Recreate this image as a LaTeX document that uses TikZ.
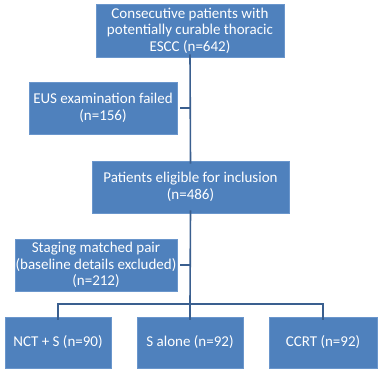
\documentclass[tikz,border=0pt]{standalone}
\usepackage{fontspec}
\setmainfont{Carlito}
\definecolor{boxblue}{HTML}{4F81BD}
\definecolor{boxedge}{HTML}{6A96CC}
\definecolor{linkblue}{HTML}{3A5F8F}
\begin{document}
\begin{tikzpicture}[x=1pt,y=-1pt,
  box/.style={fill=boxblue,draw=boxedge,line width=0.6pt,text=white,align=center,inner sep=0pt,
    font=\fontsize{15}{16.5}\selectfont},
  link/.style={draw=linkblue,line width=1.6pt}]
\useasboundingbox[fill=white] (0,0) rectangle (379,373);
\node[box,minimum width=188,minimum height=53] (top) at (190,30.5) {Consecutive patients with\\potentially curable thoracic\\ESCC (n=642)};
\node[box,minimum width=148,minimum height=52] (eus) at (103,108) {EUS examination failed\\(n=156)};
\node[box,minimum width=197,minimum height=52] (elig) at (190.5,187) {Patients eligible for inclusion\\(n=486)};
\node[box,minimum width=162,minimum height=52] (stag) at (96,265) {Staging matched pair\\(baseline details excluded)\\(n=212)};
\node[box,minimum width=106,minimum height=51] (nct) at (58,342.5) {NCT + S (n=90)};
\node[box,minimum width=106,minimum height=51] (salone) at (190,342.5) {S alone (n=92)};
\node[box,minimum width=108,minimum height=51] (ccrt) at (323,342.5) {CCRT (n=92)};
\coordinate (j1) at (190,108);
\coordinate (j2) at (190,265);
\coordinate (hb) at (190,304);
\path[link] ([yshift=3]top.south) -- ([yshift=-3]elig.north);
\path[link] ([xshift=3]eus.east) -- (j1);
\path[link] ([yshift=3]elig.south) -- (hb);
\path[link] ([xshift=3]stag.east) -- (j2);
\path[link] (nct.north |- hb) -- ([yshift=-3]nct.north);
\path[link] (ccrt.north |- hb) -- ([yshift=-3]ccrt.north);
\path[link] ([xshift=-0.8]nct.north |- hb) -- ([xshift=0.8]ccrt.north |- hb);
\path[link] (hb) -- ([yshift=-3]salone.north);
\end{tikzpicture}
\end{document}
